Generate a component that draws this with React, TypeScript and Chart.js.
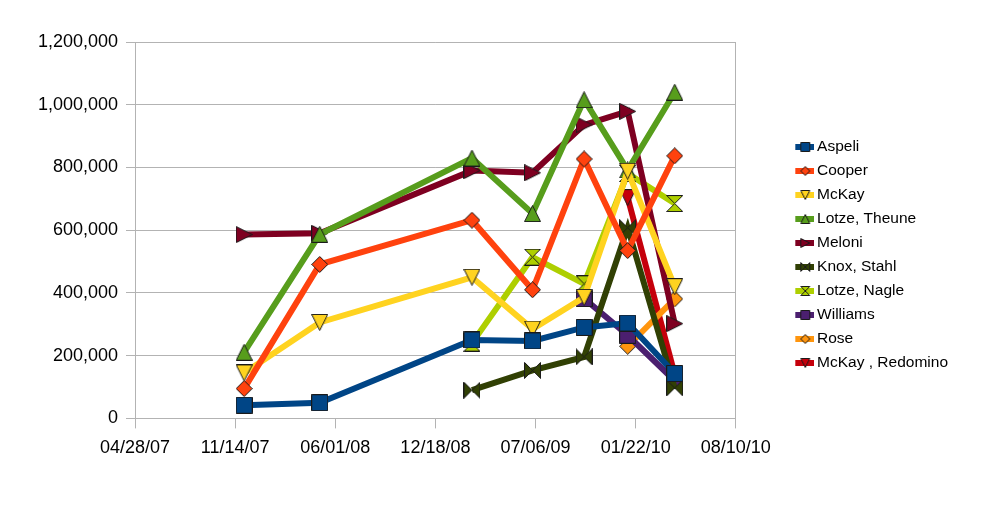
import { useEffect, useRef } from "react";
import { Chart, registerables } from "chart.js";

Chart.register(...registerables);

// dates the figures were reported (x positions)
const reportDates = [
  "2007-12-02",
  "2008-05-01",
  "2009-03-01",
  "2009-06-30",
  "2009-10-11",
  "2010-01-06",
  "2010-04-10",
];

const aspeli = [42000, 50000, 250000, 247000, 290000, 304000, 143000];
const cooper = [95000, 491000, 632000, 410000, 827000, 535000, 837000];
const mckay = [145000, 306000, 450000, 285000, 386000, 788000, 420000];
const lotzeTheune = [211000, 587000, 830000, 653000, 1016000, 792000, 1040000];
const meloni = [586000, 590000, 790000, 783000, 936000, 979000, 302000];
const knoxStahl = [null, null, 90000, 153000, 196000, 608000, 97000];
const lotzeNagle = [null, null, 240000, 514000, 429000, 781000, 685000];
const williams = [null, null, null, null, 382000, 265000, 120000];
const rose = [null, null, null, null, null, 230000, 381000];
const mckayRedomino = [null, null, null, null, null, 704000, 140000];

const seriesNames = [
  "Aspeli",
  "Cooper",
  "McKay",
  "Lotze, Theune",
  "Meloni",
  "Knox, Stahl",
  "Lotze, Nagle",
  "Williams",
  "Rose",
  "McKay , Redomino",
];
const seriesValues = [aspeli, cooper, mckay, lotzeTheune, meloni, knoxStahl, lotzeNagle, williams, rose, mckayRedomino];
const seriesColors = [
  "#004586",
  "#ff420e",
  "#ffd320",
  "#579d1c",
  "#7e0021",
  "#314004",
  "#aecf00",
  "#4b1f6f",
  "#ff950e",
  "#c5000b",
];
type Marker = "square" | "diamond" | "up" | "down" | "right" | "bowtie" | "hourglass";
const seriesMarkers: Marker[] = ["square", "diamond", "down", "up", "right", "bowtie", "hourglass", "square", "diamond", "down"];

const xAxisStart = "2007-04-28";
const xAxisEnd = "2010-08-10";
const xStepDays = 200;
const yAxisMax = 1200000;
const yStep = 200000;

const gridColor = "#b3b3b3";
const tickFont = { family: "'Liberation Sans', Arial, sans-serif", size: 18 };
const legendFont = { family: "'Liberation Sans', Arial, sans-serif", size: 15.5 };

const DAY = 86400000;
const toDay = (iso: string) => Date.parse(iso + "T00:00:00Z") / DAY;
const fmtDay = (day: number) => {
  const d = new Date(Math.round(day) * DAY);
  const p = (n: number) => String(n).padStart(2, "0");
  return `${p(d.getUTCMonth() + 1)}/${p(d.getUTCDate())}/${p(d.getUTCFullYear() % 100)}`;
};

const tracePath = (ctx: CanvasRenderingContext2D, marker: Marker, s: number) => {
  const m = s / 2;
  ctx.beginPath();
  switch (marker) {
    case "square":
      ctx.rect(0, 0, s, s);
      break;
    case "diamond":
      ctx.moveTo(m, 0);
      ctx.lineTo(s, m);
      ctx.lineTo(m, s);
      ctx.lineTo(0, m);
      break;
    case "up":
      ctx.moveTo(m, 0);
      ctx.lineTo(s, s);
      ctx.lineTo(0, s);
      break;
    case "down":
      ctx.moveTo(0, 0);
      ctx.lineTo(s, 0);
      ctx.lineTo(m, s);
      break;
    case "right":
      ctx.moveTo(0, 0);
      ctx.lineTo(s, m);
      ctx.lineTo(0, s);
      break;
    case "bowtie":
      ctx.moveTo(0, 0);
      ctx.lineTo(m, m);
      ctx.lineTo(0, s);
      ctx.closePath();
      ctx.moveTo(s, 0);
      ctx.lineTo(m, m);
      ctx.lineTo(s, s);
      break;
    case "hourglass":
      ctx.moveTo(0, 0);
      ctx.lineTo(s, 0);
      ctx.lineTo(m, m);
      ctx.closePath();
      ctx.moveTo(0, s);
      ctx.lineTo(s, s);
      ctx.lineTo(m, m);
      break;
  }
  ctx.closePath();
};

const paintMarker = (ctx: CanvasRenderingContext2D, marker: Marker, color: string, s: number, ox: number, oy: number) => {
  ctx.save();
  ctx.translate(ox, oy);
  tracePath(ctx, marker, s);
  ctx.fillStyle = color;
  ctx.fill();
  ctx.lineWidth = 1;
  ctx.strokeStyle = "#1a1a1a";
  ctx.stroke();
  ctx.restore();
};

const makePointImage = (marker: Marker, color: string, s = 16) => {
  const c = document.createElement("canvas");
  c.width = s + 1;
  c.height = s + 1;
  paintMarker(c.getContext("2d")!, marker, color, s, 0.5, 0.5);
  return c;
};

// bar + small marker, pushed to the right end of a wide transparent image
const makeLegendIcon = (marker: Marker, color: string) => {
  const c = document.createElement("canvas");
  c.width = 75;
  c.height = 12;
  const ctx = c.getContext("2d")!;
  ctx.fillStyle = color;
  ctx.fillRect(56, 3, 19, 6);
  paintMarker(ctx, marker, color, 9, 61.5, 1.5);
  return c;
};

const App = () => {
  const canvasRef = useRef<HTMLCanvasElement>(null);

  useEffect(() => {
    if (!canvasRef.current) return;

    const legendIcons = seriesMarkers.map((m, i) => makeLegendIcon(m, seriesColors[i]));

    const datasets = seriesNames.map((name, i) => ({
      label: name,
      data: reportDates
        .map((d, j) => ({ x: toDay(d), y: seriesValues[i][j] }))
        .filter((p) => p.y !== null) as { x: number; y: number }[],
      borderColor: seriesColors[i],
      backgroundColor: seriesColors[i],
      borderWidth: 6,
      pointStyle: makePointImage(seriesMarkers[i], seriesColors[i]),
      pointRadius: 8,
      tension: 0,
    }));

    const chart = new Chart(canvasRef.current, {
      type: "line",
      data: { datasets },
      options: {
        animation: false,
        responsive: false,
        layout: { padding: { left: 0, top: 42, right: 39, bottom: 39 } },
        plugins: {
          tooltip: { enabled: false },
          legend: {
            position: "right",
            maxWidth: 260,
            labels: {
              usePointStyle: true,
              pointStyleWidth: 65,
              padding: 8.5,
              color: "#000",
              font: legendFont,
              generateLabels: (c) =>
                Chart.defaults.plugins.legend.labels
                  .generateLabels(c)
                  .map((item, i) => ({ ...item, pointStyle: legendIcons[i] })),
            },
          },
        },
        scales: {
          x: {
            type: "linear",
            min: toDay(xAxisStart),
            max: toDay(xAxisEnd),
            ticks: {
              stepSize: xStepDays,
              callback: (v) => fmtDay(Number(v)),
              font: tickFont,
              color: "#000",
              padding: 9,
              maxRotation: 0,
              autoSkip: false,
            },
            grid: { drawOnChartArea: false, tickLength: 10, color: gridColor },
            border: { color: gridColor },
          },
          y: {
            min: 0,
            max: yAxisMax,
            ticks: {
              stepSize: yStep,
              callback: (v) => Number(v).toLocaleString("en-US"),
              font: tickFont,
              color: "#000",
              padding: 8,
            },
            grid: { tickLength: 9, color: gridColor },
            border: { color: gridColor },
            afterFit: (s) => {
              s.width = 135;
            },
          },
          frame: {
            type: "linear",
            position: "right",
            min: 0,
            max: 1,
            ticks: { display: false },
            grid: { display: false, drawTicks: false },
            border: { color: gridColor },
            afterFit: (s) => {
              s.width = 0;
            },
          },
        },
      },
    });

    return () => {
      chart.destroy();
    };
  }, []);

  return (
    <div style={{ position: "absolute", left: 0, top: 0, width: 997, height: 507, background: "#fff" }}>
      <canvas ref={canvasRef} width={997} height={507}></canvas>
    </div>
  );
};

export default App;
